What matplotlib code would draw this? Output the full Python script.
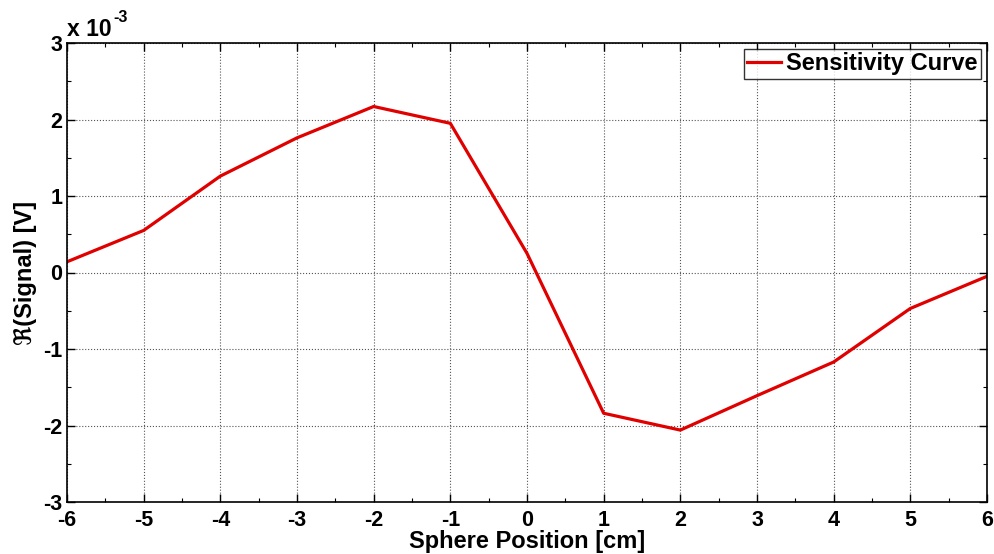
import matplotlib
matplotlib.use('Agg')
import matplotlib.pyplot as plt
from matplotlib.ticker import MultipleLocator, FuncFormatter

plt.rcParams['font.family'] = ['Liberation Sans', 'DejaVu Sans']
plt.rcParams['font.weight'] = 'bold'
plt.rcParams['axes.unicode_minus'] = False

# sphere sweep, signal real part in volts
position_cm = [-6, -5, -4, -3, -2, -1, 0, 1, 2, 3, 4, 5, 6]
signal_mv = [0.14, 0.55, 1.26, 1.76, 2.17, 1.95, 0.25, -1.84, -2.06, -1.61, -1.17, -0.47, -0.05]
signal_v = [v * 1e-3 for v in signal_mv]

fig = plt.figure(figsize=(9.95, 5.54), dpi=100)
ax = fig.add_axes([67 / 995, 1 - 502 / 554, 920 / 995, 459 / 554])

ax.plot(position_cm, signal_v, color='#e00000', linewidth=2.3, label='Sensitivity Curve')

ax.set_xlim(-6, 6)
ax.set_ylim(-3e-3, 3e-3)
ax.xaxis.set_major_locator(MultipleLocator(1))
ax.xaxis.set_minor_locator(MultipleLocator(0.5))
ax.yaxis.set_major_locator(MultipleLocator(1e-3))
ax.yaxis.set_minor_locator(MultipleLocator(0.5e-3))
ax.xaxis.set_major_formatter(FuncFormatter(lambda v, p: '%d' % round(v)))
ax.yaxis.set_major_formatter(FuncFormatter(lambda v, p: '%d' % round(v * 1e3)))
ax.tick_params(which='both', direction='in', top=True, right=True, labelsize=15.5)
ax.tick_params(axis='x', which='major', pad=6)
ax.tick_params(axis='y', which='major', pad=3.5)
ax.tick_params(which='major', length=6, width=1)
ax.tick_params(which='minor', length=3, width=0.8)
for s in ax.spines.values():
    s.set_linewidth(1.2)

ax.grid(True, which='major', color='#555555', linestyle=':', linewidth=0.8)

# exponent shown the old way, above the y axis
ax.text(0.0, 1.005, 'x 10', transform=ax.transAxes, fontsize=16.5, ha='left', va='bottom')
ax.text(0.05, 1.04, '-3', transform=ax.transAxes, fontsize=11.5, ha='left', va='bottom')

ax.set_xlabel('Sphere Position [cm]', fontsize=17, fontweight='bold', labelpad=-1)
ax.set_ylabel('\u211c(Signal) [V]', fontsize=17, fontweight='bold', labelpad=4)

leg = ax.legend(loc='upper right', fontsize=17, frameon=True, fancybox=False,
                edgecolor='black', borderaxespad=0.25, handlelength=1.45,
                handletextpad=0.2, borderpad=0.15)
leg.get_frame().set_linewidth(1.0)

fig.savefig('out.png', dpi=100)
